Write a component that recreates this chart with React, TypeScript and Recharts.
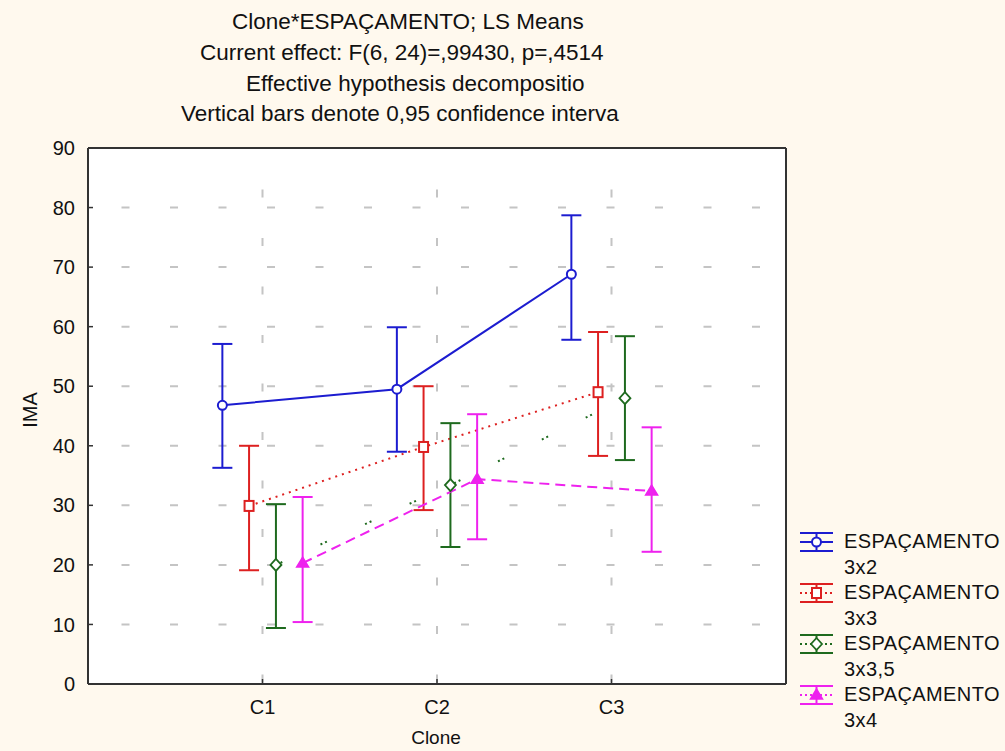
import React from 'react';
import { ComposedChart, Line, XAxis, YAxis, CartesianGrid, ErrorBar, Legend } from 'recharts';

// ---- data ----
const categories = ['C1', 'C2', 'C3'];
const categoryPositions = [1, 2, 3];
const yTicks = [0, 10, 20, 30, 40, 50, 60, 70, 80, 90];

const seriesNames = ['ESPAÇAMENTO 3x2', 'ESPAÇAMENTO 3x3', 'ESPAÇAMENTO 3x3,5', 'ESPAÇAMENTO 3x4'];
const seriesOffsets = [-0.23, -0.077, 0.077, 0.23];

const mean3x2 = [46.8, 49.5, 68.8];
const low3x2 = [36.3, 39.0, 57.8];
const high3x2 = [57.1, 59.9, 78.7];

const mean3x3 = [29.9, 39.8, 49.0];
const low3x3 = [19.1, 29.2, 38.3];
const high3x3 = [40.0, 50.0, 59.1];

const mean3x35 = [20.0, 33.4, 48.0];
const low3x35 = [9.4, 23.0, 37.6];
const high3x35 = [30.2, 43.8, 58.4];

const mean3x4 = [20.3, 34.4, 32.4];
const low3x4 = [10.4, 24.3, 22.2];
const high3x4 = [31.4, 45.3, 43.1];

const titleLines = [
  'Clone*ESPAÇAMENTO; LS Means',
  'Current effect: F(6, 24)=,99430, p=,4514',
  'Effective hypothesis decompositio',
  'Vertical bars denote 0,95 confidence interva',
];

// ---- styles ----
const COLORS = ['#1c1cd0', '#dd2020', '#1e6a1e', '#ee22ee'];
const DASHES: (string | undefined)[] = [undefined, '2 5', '2 3 2 42', '10 6'];
const SHAPES = ['circle', 'square', 'diamond', 'triangle'];
const BG = '#fff9ee';
const FONT = '"Liberation Sans", Arial, sans-serif';

const allMeans = [mean3x2, mean3x3, mean3x35, mean3x4];
const allLows = [low3x2, low3x3, low3x35, low3x4];
const allHighs = [high3x2, high3x3, high3x35, high3x4];

const seriesData = allMeans.map((means, s) =>
  means.map((m, i) => ({
    x: categoryPositions[i] + seriesOffsets[s],
    y: m,
    err: [m - allLows[s][i], allHighs[s][i] - m],
  }))
);

function Marker({ cx, cy, shape, color }: { cx: number; cy: number; shape: string; color: string }) {
  if (cx == null || cy == null) return null;
  switch (shape) {
    case 'circle':
      return <circle cx={cx} cy={cy} r={4.5} fill="#fff" stroke={color} strokeWidth={2} />;
    case 'square':
      return <rect x={cx - 4.5} y={cy - 5} width={9} height={10} fill="#fff" stroke={color} strokeWidth={2} />;
    case 'diamond':
      return (
        <polygon
          points={`${cx},${cy - 6} ${cx + 5.5},${cy} ${cx},${cy + 6} ${cx - 5.5},${cy}`}
          fill="#fff"
          stroke={color}
          strokeWidth={1.8}
        />
      );
    default:
      return (
        <polygon
          points={`${cx},${cy - 6} ${cx + 6},${cy + 4} ${cx - 6},${cy + 4}`}
          fill={color}
          stroke={color}
          strokeWidth={1.5}
        />
      );
  }
}

function LegendGlyph({ s }: { s: number }) {
  const c = COLORS[s];
  return (
    <svg width={36} height={22} style={{ display: 'block' }}>
      <line x1={1} y1={2} x2={34} y2={2} stroke={c} strokeWidth={2} />
      <line x1={1} y1={20} x2={34} y2={20} stroke={c} strokeWidth={2} />
      <line x1={17.5} y1={2} x2={17.5} y2={20} stroke={c} strokeWidth={2} />
      <line x1={1} y1={11} x2={34} y2={11} stroke={c} strokeWidth={2} strokeDasharray={DASHES[s] ? '2 3' : undefined} />
      <Marker cx={17.5} cy={11} shape={SHAPES[s]} color={c} />
    </svg>
  );
}

function renderLegend() {
  return (
    <div style={{ fontFamily: FONT, fontSize: 20, letterSpacing: 0.4, color: '#111' }}>
      {seriesNames.map((name, s) => {
        const parts = name.split(' ');
        return (
          <div key={name} style={{ display: 'flex', alignItems: 'flex-start', height: 51 }}>
            <div style={{ width: 45, paddingTop: 2 }}>
              <LegendGlyph s={s} />
            </div>
            <div style={{ lineHeight: '25.5px', whiteSpace: 'nowrap' }}>
              <div>{parts[0]}</div>
              <div>{parts.slice(1).join(' ')}</div>
            </div>
          </div>
        );
      })}
    </div>
  );
}

export default function App() {
  return (
    <div style={{ position: 'absolute', left: 0, top: 0, width: 1005, height: 751, background: BG, overflow: 'hidden' }}>
      <ComposedChart
        width={1005}
        height={751}
        margin={{ top: 147, right: 218, bottom: 0, left: 28 }}
      >
        <CartesianGrid fill="#ffffff" horizontal={false} vertical={false} />
        <CartesianGrid
          vertical={false}
          stroke="#c4c4c4"
          strokeWidth={2}
          strokeDasharray="8 40.5"
          strokeDashoffset={15}
        />
        <CartesianGrid
          horizontal={false}
          stroke="#c4c4c4"
          strokeWidth={2}
          strokeDasharray="8 40.5"
          strokeDashoffset={7}
        />
        <XAxis
          dataKey="x"
          type="number"
          domain={[0, 4]}
          ticks={categoryPositions}
          tickFormatter={(v: number) => categories[categoryPositions.indexOf(v)] ?? ''}
          height={67}
          tickSize={-5}
          tickMargin={21}
          axisLine={{ stroke: '#333', strokeWidth: 2 }}
          tickLine={{ stroke: '#333', strokeWidth: 1.5 }}
          tick={{ fill: '#111', fontSize: 20, fontFamily: FONT }}
          allowDuplicatedCategory={false}
        />
        <XAxis
          xAxisId="top"
          orientation="top"
          dataKey="x"
          type="number"
          domain={[0, 4]}
          height={1}
          tick={false}
          tickLine={false}
          axisLine={{ stroke: '#333', strokeWidth: 2 }}
        />
        <YAxis
          type="number"
          domain={[0, 90]}
          ticks={yTicks}
          width={60}
          tickSize={-5}
          tickMargin={18}
          axisLine={{ stroke: '#333', strokeWidth: 2 }}
          tickLine={{ stroke: '#333', strokeWidth: 1.5 }}
          tick={{ fill: '#111', fontSize: 20, fontFamily: FONT }}
        />
        <YAxis
          yAxisId="right"
          orientation="right"
          type="number"
          domain={[0, 90]}
          ticks={yTicks}
          width={1}
          tickSize={-5}
          tick={false}
          axisLine={{ stroke: '#333', strokeWidth: 2 }}
          tickLine={{ stroke: '#333', strokeWidth: 1.5 }}
        />
        {seriesData.map((d, s) => (
          <Line
            key={seriesNames[s]}
            name={seriesNames[s]}
            data={d}
            dataKey="y"
            type="linear"
            stroke={COLORS[s]}
            strokeWidth={2}
            strokeDasharray={DASHES[s]}
            isAnimationActive={false}
            dot={(p: any) => (
              <Marker key={`dot-${s}-${p.index}`} cx={p.cx} cy={p.cy} shape={SHAPES[s]} color={COLORS[s]} />
            )}
            activeDot={false}
          >
            <ErrorBar
              dataKey="err"
              direction="y"
              width={10}
              stroke={COLORS[s]}
              strokeWidth={2}
              isAnimationActive={false}
            />
          </Line>
        ))}
        <Legend
          layout="vertical"
          align="center"
          verticalAlign="middle"
          content={renderLegend}
          wrapperStyle={{ left: 799, top: 529, width: 206 }}
        />
      </ComposedChart>
      <svg
        width={1005}
        height={751}
        style={{ position: 'absolute', left: 0, top: 0, pointerEvents: 'none' }}
        fontFamily={FONT}
      >
        {titleLines.map((t, i) => (
          <text key={i} x={[232, 200, 246, 181][i]} y={[29, 60, 91, 121][i]} fontSize={22.5} fill="#111">
            {t}
          </text>
        ))}
        <text x={37} y={410} fontSize={20} fill="#111" textAnchor="middle" transform="rotate(-90 37 410)">
          IMA
        </text>
        <text x={436} y={744} fontSize={19} fill="#111" textAnchor="middle">
          Clone
        </text>
      </svg>
    </div>
  );
}
